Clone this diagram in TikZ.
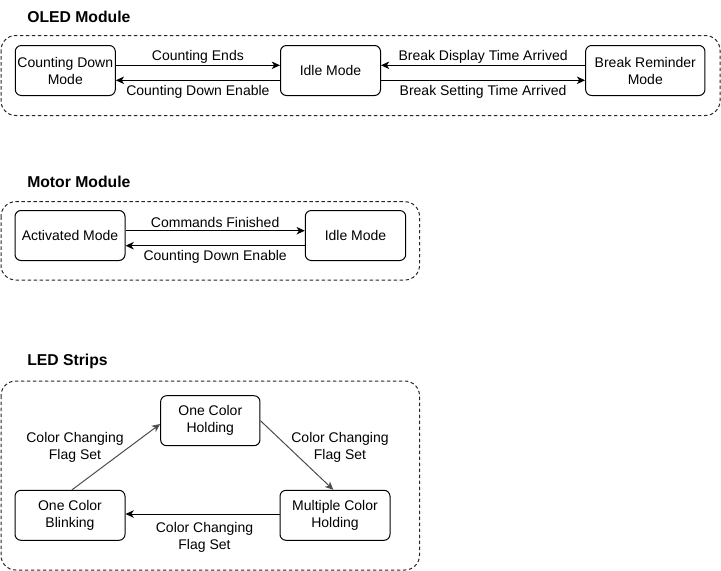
\documentclass[tikz,border=0pt]{standalone}
\usepackage{fontspec}
\setmainfont{Liberation Sans}
\usetikzlibrary{arrows.meta}
\begin{document}
\begin{tikzpicture}[x=0.75pt,y=-0.75pt,
  every node/.style={font=\fontsize{10.5pt}{12.75pt}\selectfont},
  statebox/.style={draw, line width=0.75pt, rounded corners=4.5pt, align=center, minimum height=37.5pt, inner sep=1pt},
  container/.style={draw, line width=0.75pt, dash pattern=on 2.6pt off 1.9pt, rounded corners=11pt, color=black!85},
  title/.style={font=\fontsize{11.8pt}{14pt}\selectfont\bfseries, anchor=west, inner sep=0pt},
  arr/.style={line width=0.75pt, -{Stealth[length=6.2pt,width=5.6pt,inset=1.8pt]}},
  darr/.style={arr, color=black!70},
  lbl/.style={align=center, inner sep=0pt},
  up/.style={yshift=6.4pt},
  down/.style={yshift=-8.6pt}
]
\useasboundingbox (0,0) rectangle (721,571);

% ---------- OLED module ----------
\node[title] (t1) at (27,17) {OLED Module};
\draw[container] (1,35.5) rectangle (720,115.5);
\node[statebox, minimum width=75pt] (cd) at (65.3,70.5) {Counting Down\\Mode};
\node[statebox, minimum width=75pt] (idle1) at (330.5,70.5) {Idle Mode};
\node[statebox, minimum width=89.5pt] (br) at (645.3,70.5) {Break Reminder\\Mode};
\draw[arr] (cd.east |- 0,65.3) -- node[lbl, up] (l1) {Counting Ends} (idle1.west |- 0,65.3);
\draw[arr] (idle1.west |- 0,80.3) -- node[lbl, down] (l2) {Counting Down Enable} (cd.east |- 0,80.3);
\draw[arr] (br.west |- 0,65.3) -- node[lbl, up] (l3) {Break Display Time Arrived} (idle1.east |- 0,65.3);
\draw[arr] (idle1.east |- 0,80.3) -- node[lbl, down] (l4) {Break Setting Time Arrived} (br.west |- 0,80.3);

% ---------- Motor module ----------
\node[title] (t2) at (27,181.5) {Motor Module};
\draw[container] (1,201.7) rectangle (419.5,280);
\node[statebox, minimum width=82.5pt] (act) at (70,235.5) {Activated Mode};
\node[statebox, minimum width=75.3pt] (idle2) at (355.5,235.5) {Idle Mode};
\draw[arr] (act.east |- 0,230.7) -- node[lbl, up] (l5) {Commands Finished} (idle2.west |- 0,230.7);
\draw[arr] (idle2.west |- 0,245.7) -- node[lbl, down] (l6) {Counting Down Enable} (act.east |- 0,245.7);

% ---------- LED strips ----------
\node[title] (t3) at (27,361.5) {LED Strips};
\draw[container] (1,381) rectangle (419.5,570);
\node[statebox, minimum width=74.5pt] (hold) at (210.3,420.7) {One Color\\Holding};
\node[statebox, minimum width=82.5pt] (blink) at (70,515.3) {One Color\\Blinking};
\node[statebox, minimum width=82.5pt] (multi) at (335,515.3) {Multiple Color\\Holding};
\draw[darr] (blink.north -| 72,0) -- (hold.west |- 0,424);
\draw[darr] (hold.east) -- (multi.north -| 333.3,0);
\draw[arr] (multi.west |- 0,514) -- (blink.east |- 0,514);
\node[lbl] (l7) at (75,447) {Color Changing\\Flag Set};
\node[lbl] (l8) at (340,447) {Color Changing\\Flag Set};
\node[lbl] (l9) at (204.5,537) {Color Changing\\Flag Set};
\end{tikzpicture}
\end{document}
